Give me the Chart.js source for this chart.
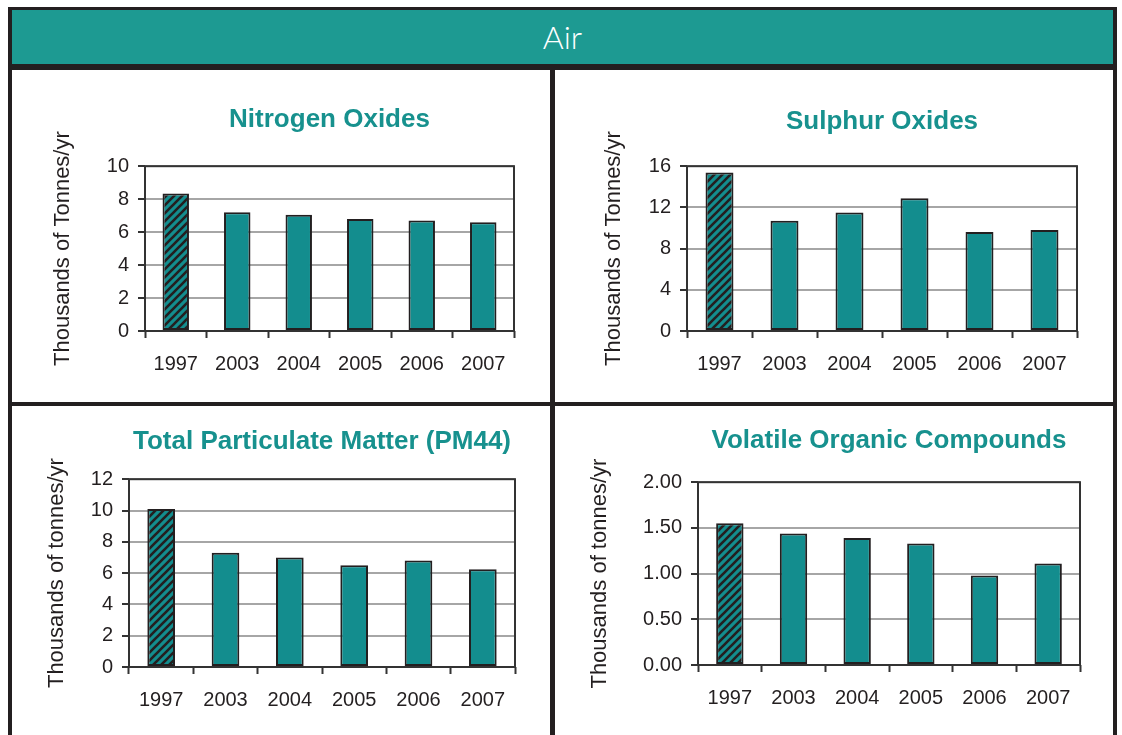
<!DOCTYPE html>
<html>
<head>
<meta charset="utf-8">
<script src="https://cdn.jsdelivr.net/npm/chart.js@4.4.1/dist/chart.umd.min.js"></script>
<style>
  body { margin: 0; background: #fff; overflow: hidden; }
  #frame { position: absolute; left: 8px; top: 7px; width: 1109px; height: 760px; background: #231f20; }
  #header { position: absolute; left: 12px; top: 10px; width: 1101px; height: 54px; background: #1d9a92;
            color: #fff; font-family: Lato, 'Open Sans', sans-serif; font-weight: 300; font-size: 32px;
            line-height: 54px; text-align: center; }
  .panel { position: absolute; background: #fff; }
  .panel canvas { display: block; }
</style>
</head>
<body>
<div id="frame"></div>
<div id="header">Air</div>
<div class="panel" style="left:12px;top:70px;width:538px;height:332px"><canvas id="noxChart" width="538" height="332"></canvas></div>
<div class="panel" style="left:555px;top:70px;width:558px;height:332px"><canvas id="soxChart" width="558" height="332"></canvas></div>
<div class="panel" style="left:12px;top:406px;width:538px;height:340px"><canvas id="pmChart" width="538" height="329"></canvas></div>
<div class="panel" style="left:555px;top:406px;width:558px;height:340px"><canvas id="vocChart" width="558" height="329"></canvas></div>
<script>
// Dados
const years = ['1997', '2003', '2004', '2005', '2006', '2007'];
const nox = [8.35, 7.2, 7.05, 6.8, 6.7, 6.6];
const sox = [15.4, 10.7, 11.5, 12.9, 9.6, 9.8];
const pm44 = [10.1, 7.3, 7.0, 6.5, 6.8, 6.25];
const voc = [1.55, 1.44, 1.39, 1.33, 0.98, 1.11];

// Marcas do eixo Y
const noxTicks = [0, 2, 4, 6, 8, 10];
const soxTicks = [0, 4, 8, 12, 16];
const pmTicks = [0, 2, 4, 6, 8, 10, 12];
const vocTicks = [0, 0.5, 1, 1.5, 2];

const teal = '#138d8e';
const dark = '#231f20';

Chart.defaults.font.family = "'Liberation Sans', Arial, sans-serif";
Chart.defaults.color = dark;

// Padrão tracejado da barra de 1997
function makeHatch() {
    let s = 8;
    let c = document.createElement('canvas');
    c.width = s;
    c.height = s;
    let g = c.getContext('2d');
    g.fillStyle = teal;
    g.fillRect(0, 0, s, s);
    g.strokeStyle = dark;
    g.lineWidth = 2.6;
    g.beginPath();
    g.moveTo(0, s); g.lineTo(s, 0);
    g.moveTo(-s / 2, s / 2); g.lineTo(s / 2, -s / 2);
    g.moveTo(s / 2, s * 1.5); g.lineTo(s * 1.5, s / 2);
    g.stroke();
    return g.createPattern(c, 'repeat');
}
const hatch = makeHatch();

// Moldura à volta da área do gráfico
const plotFrame = {
    id: 'plotFrame',
    afterDatasetsDraw(chart) {
        let a = chart.chartArea;
        let ctx = chart.ctx;
        ctx.save();
        ctx.strokeStyle = '#333';
        ctx.lineWidth = 2;
        ctx.strokeRect(a.left, a.top, a.right - a.left, a.bottom - a.top);
        ctx.restore();
    }
};

function makeChart(id, values, ticks, title, yTitle, fmt, lay) {
    let ctx = document.getElementById(id);
    return new Chart(ctx, {
        type: 'bar',
        data: {
            labels: years,
            datasets: [{
                data: values,
                backgroundColor: values.map((v, i) => i === 0 ? hatch : teal),
                borderColor: dark,
                borderWidth: 2,
                borderSkipped: false,
                barPercentage: 0.43,
                categoryPercentage: 1
            }]
        },
        plugins: [plotFrame],
        options: {
            responsive: false,
            animation: false,
            devicePixelRatio: 1,
            layout: { padding: { left: 0, right: lay.padRight, top: 0, bottom: 0 } },
            plugins: {
                legend: { display: false },
                tooltip: { enabled: false },
                title: {
                    display: true,
                    text: title,
                    color: '#17918e',
                    fullSize: false,
                    font: { size: 26, weight: 'bold', lineHeight: 1.2 },
                    padding: { top: lay.titleTop, bottom: lay.titleBottom }
                }
            },
            scales: {
                x: {
                    offset: true,
                    grid: { display: true, drawOnChartArea: false, drawTicks: true, tickLength: 7, tickColor: '#333', tickWidth: 2, offset: true },
                    border: { display: false },
                    ticks: { font: { size: 20 }, padding: 14, color: dark },
                    afterFit: s => { s.height = lay.xHeight; }
                },
                y: {
                    min: ticks[0],
                    max: ticks[ticks.length - 1],
                    afterBuildTicks: s => { s.ticks = ticks.map(v => ({ value: v })); },
                    grid: { color: '#a6a6a6', lineWidth: 2, tickLength: 7, tickColor: '#333', tickWidth: 2 },
                    border: { display: false },
                    ticks: { font: { size: 20 }, padding: 9, color: dark, callback: v => fmt(v) },
                    title: {
                        display: true,
                        text: yTitle,
                        color: dark,
                        font: { size: 22, lineHeight: 1.2 },
                        padding: { top: lay.yTitlePad, bottom: 0 }
                    },
                    afterFit: s => { s.width = lay.yWidth; }
                }
            }
        }
    });
}

const plain = v => String(v);
const twoDec = v => Number(v).toFixed(2);

makeChart('noxChart', nox, noxTicks, 'Nitrogen Oxides', 'Thousands of Tonnes/yr', plain,
    { yWidth: 133, padRight: 36, xHeight: 71, titleTop: 34, titleBottom: 31, yTitlePad: 38 });
makeChart('soxChart', sox, soxTicks, 'Sulphur Oxides', 'Thousands of Tonnes/yr', plain,
    { yWidth: 132, padRight: 36, xHeight: 71, titleTop: 36, titleBottom: 29, yTitlePad: 46 });
makeChart('pmChart', pm44, pmTicks, 'Total Particulate Matter (PM44)', 'Thousands of tonnes/yr', plain,
    { yWidth: 117, padRight: 35, xHeight: 68, titleTop: 20, titleBottom: 22, yTitlePad: 32 });
makeChart('vocChart', voc, vocTicks, 'Volatile Organic Compounds', 'Thousands of tonnes/yr', twoDec,
    { yWidth: 143, padRight: 33, xHeight: 70, titleTop: 19, titleBottom: 26, yTitlePad: 32 });
</script>
</body>
</html>
